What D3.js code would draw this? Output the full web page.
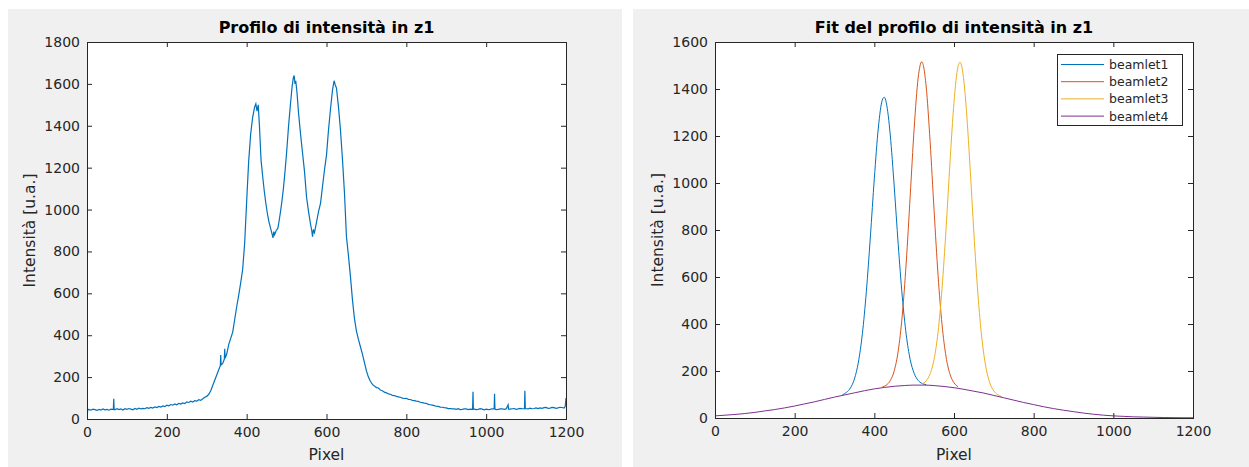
<!DOCTYPE html>
<html>
<head>
<meta charset="utf-8">
<script src="https://cdn.jsdelivr.net/npm/d3@7"></script>
<style>
  body { margin: 0; background: #fff; }
  svg { display: block; font-family: "DejaVu Sans", sans-serif; }
</style>
</head>
<body>
<div id="chart"></div>
<script>
const width = 1249;
const height = 467;

const profileX = [0, 2, 10, 15, 20, 25, 30, 35, 40, 45, 50, 55, 60, 66, 67, 68, 70, 75, 80, 85, 90, 95, 100, 105, 110, 115, 120, 125, 130, 135, 140, 145, 150,
    155, 160, 165, 170, 175, 180, 185, 190, 195, 200, 205, 210, 215, 220, 225, 230, 235, 240, 245, 250, 255, 260, 265, 270, 275, 280, 285, 290, 295, 300, 305, 310, 315, 320, 325,
    330, 334, 335, 336, 340, 344, 345, 346, 350, 355, 360, 365, 370, 375, 380, 385, 390, 395, 400, 405,
    410, 415, 420, 423, 426, 429, 432, 436, 440, 444, 448, 452, 456, 460, 464, 466, 468, 470, 474, 478,
    480, 484, 488, 492, 496, 500, 505, 510, 514, 517, 519, 521, 523, 526, 530, 535, 540, 545, 550, 555,
    560, 563, 565, 567, 570, 575, 580, 585, 590, 595, 600, 605, 610, 615, 619, 622, 625, 630, 635, 640,
    645, 650, 655, 660, 665, 670, 675, 680, 685, 690, 695, 700, 705, 710, 715, 720, 725, 730, 735, 740, 745, 750, 755, 760, 765, 770,
    775, 780, 785, 790, 795, 800, 805, 810, 815, 820, 825, 830, 835, 840, 845, 850, 855, 860, 865, 870, 875, 880, 885, 890, 895, 900, 905, 910, 915, 920, 925, 930, 935, 940, 945, 950, 955, 960, 966,
    967, 968, 975, 980, 985, 990, 995, 1000, 1005, 1010, 1015, 1020, 1021, 1022, 1025, 1030, 1035, 1040, 1045, 1050, 1055, 1056, 1060, 1065, 1070, 1075, 1080, 1085, 1090, 1096, 1097,
    1098, 1105, 1110, 1115, 1120, 1125, 1130, 1135, 1140, 1145, 1150, 1155, 1160, 1165, 1170, 1175, 1180, 1185, 1190, 1195, 1198, 1200];
const profileY = [10, 46, 42, 47, 45, 41, 46, 43, 48, 44, 46, 42, 47, 45, 97, 48, 44, 49, 45, 48, 43, 49, 46, 50, 47, 44, 50, 46, 52, 48, 51, 49, 54,
    51, 55, 52, 58, 55, 60, 57, 62, 59, 66, 63, 69, 66, 72, 68, 74, 71, 77, 74, 82, 79, 85, 81, 88, 85, 92, 89, 97, 104, 108, 118, 135, 160, 185, 210,
    235, 255, 305, 258, 265, 285, 335, 290, 310, 355, 385, 415, 475, 536, 590, 650, 715, 840, 1040, 1230,
    1360, 1440, 1490, 1505, 1470, 1500, 1400, 1237, 1160, 1090, 1030, 980, 940, 910, 880, 865, 895, 880, 900, 910,
    930, 980, 1035, 1100, 1180, 1270, 1400, 1510, 1590, 1630, 1640, 1600, 1615, 1560, 1460, 1360, 1270, 1180, 1060, 990,
    930, 900, 870, 905, 890, 940, 990, 1030, 1110, 1190, 1260, 1380, 1480, 1570, 1615, 1595, 1580, 1490, 1380, 1240,
    1080, 870, 780, 680, 570, 480, 420, 380, 345, 310, 270, 230, 200, 180, 165, 158, 150, 148, 138, 135, 128, 125, 120, 118, 113, 112,
    108, 106, 104, 100, 98, 99, 94, 93, 89, 88, 85, 84, 80, 78, 76, 75, 70, 68, 66, 64, 61, 60, 57, 56, 54, 53, 50, 50, 48, 48, 46, 49, 45, 46, 48, 48, 45, 47, 46,
    130, 48, 45, 46, 49, 47, 44, 47, 45, 46, 49, 48, 120, 47, 45, 46, 48, 49, 46, 48, 68, 47, 47, 49, 50, 46, 48, 51, 49, 50, 135,
    50, 48, 52, 49, 50, 53, 50, 53, 51, 54, 55, 51, 52, 55, 54, 51, 53, 56, 55, 52, 60, 100];

// fitted beamlets
const beamlet1X = [320, 330, 340, 350, 360, 370, 380, 390, 400, 410, 420, 425, 430, 440, 450, 460, 470, 480, 490, 500, 510, 520, 530];
const beamlet1Y = [99, 109, 128, 166, 238, 359, 539, 770, 1020, 1234, 1353, 1365, 1342, 1204, 983, 738, 519, 355, 249, 190, 160, 147, 142];
const beamlet2X = [420, 430, 440, 450, 460, 470, 480, 490, 500, 510, 519, 530, 540, 550, 560, 570, 580, 590, 600, 610];
const beamlet2Y = [132, 140, 159, 201, 286, 435, 660, 944, 1233, 1447, 1516, 1413, 1177, 883, 607, 397, 261, 186, 150, 133];
const beamlet3X = [520, 530, 540, 550, 560, 570, 580, 590, 600, 610, 615, 620, 630, 640, 650, 660, 670, 680, 690, 700, 710, 720];
const beamlet3Y = [146, 158, 188, 250, 366, 552, 804, 1089, 1344, 1495, 1514, 1492, 1336, 1076, 785, 528, 338, 217, 149, 115, 99, 91];
const beamlet4X = [0, 25, 50, 75, 100, 125, 150, 175, 200, 225, 250, 275, 300, 325, 350, 375, 400, 425, 450, 475,
    500, 525, 550, 575, 600, 625, 650, 675, 700, 725, 750, 775, 800, 825, 850, 875, 900, 925, 950, 975,
    1000, 1025, 1050, 1075, 1100, 1125, 1150, 1175, 1200];
const beamlet4Y = [9, 12, 15, 19, 24, 30, 36, 43, 51, 60, 69, 79, 89, 98, 107, 116, 124, 130, 135, 138,
    140, 140, 138, 134, 129, 122, 114, 106, 96, 86, 76, 66, 57, 48, 40, 33, 27, 21, 16, 12,
    9, 7, 5, 4, 3, 2, 1.5, 1, 1];

const seriesNames = ["beamlet1", "beamlet2", "beamlet3", "beamlet4"];
const seriesColors = ["#0072BD", "#D95319", "#EDB120", "#7E2F8E"];

const xTicks = [0, 200, 400, 600, 800, 1000, 1200];
const yTicksLeft = [0, 200, 400, 600, 800, 1000, 1200, 1400, 1600, 1800];
const yTicksRight = [0, 200, 400, 600, 800, 1000, 1200, 1400, 1600];

const ink = "#262626";

const svg = d3.select("#chart")
    .append("svg")
    .attr("width", width)
    .attr("height", height);

svg.append("rect").attr("width", width).attr("height", height).attr("fill", "#fff");

function drawPanel(opt) {
    svg.append("rect")
        .attr("x", opt.bg[0]).attr("y", opt.bg[1])
        .attr("width", opt.bg[2]).attr("height", opt.bg[3])
        .attr("fill", "#f0f0f0");

    const x = d3.scaleLinear().domain([0, 1200]).range([opt.left, opt.right]);
    const y = d3.scaleLinear().domain([0, opt.yMax]).range([opt.bottom, opt.top]);

    const g = svg.append("g");
    g.append("rect")
        .attr("x", opt.left).attr("y", opt.top)
        .attr("width", opt.right - opt.left).attr("height", opt.bottom - opt.top)
        .attr("fill", "#fff");

    const clipId = "clip" + opt.id;
    svg.append("clipPath").attr("id", clipId)
        .append("rect")
        .attr("x", opt.left).attr("y", opt.top - 2)
        .attr("width", opt.right - opt.left + 1).attr("height", opt.bottom - opt.top + 2);

    const plot = g.append("g").attr("clip-path", "url(#" + clipId + ")");

    // axes, ticks pointing inwards like matlab
    const fmt = d3.format("d");
    const styleAxis = sel => {
        sel.select(".domain").remove();
        sel.selectAll("line").attr("stroke", ink);
        sel.selectAll("text").attr("fill", ink).style("font-size", "14px")
            .style("font-family", "DejaVu Sans, sans-serif");
    };
    g.append("g").attr("transform", "translate(0," + opt.bottom + ")")
        .call(d3.axisBottom(x).tickValues(xTicks).tickFormat(fmt).tickSize(-5).tickPadding(8))
        .call(styleAxis);
    g.append("g").attr("transform", "translate(0," + opt.top + ")")
        .call(d3.axisTop(x).tickValues(xTicks).tickSize(-5).tickFormat(""))
        .call(styleAxis);
    g.append("g").attr("transform", "translate(" + opt.left + ",0)")
        .call(d3.axisLeft(y).tickValues(opt.yTicks).tickFormat(fmt).tickSize(-5).tickPadding(7))
        .call(styleAxis);
    g.append("g").attr("transform", "translate(" + opt.right + ",0)")
        .call(d3.axisRight(y).tickValues(opt.yTicks).tickSize(-5).tickFormat(""))
        .call(styleAxis);

    g.append("rect")
        .attr("x", opt.left + 0.5).attr("y", opt.top + 0.5)
        .attr("width", opt.right - opt.left).attr("height", opt.bottom - opt.top)
        .attr("fill", "none").attr("stroke", ink).attr("stroke-width", 1);

    g.append("text")
        .attr("x", (opt.left + opt.right) / 2).attr("y", 33)
        .attr("text-anchor", "middle")
        .style("font-size", "16px").style("font-weight", "bold")
        .attr("fill", "#000")
        .text(opt.title);

    g.append("text")
        .attr("x", (opt.left + opt.right) / 2).attr("y", 460)
        .attr("text-anchor", "middle")
        .style("font-size", "15.5px").attr("fill", ink)
        .text("Pixel");

    g.append("text")
        .attr("transform", "translate(" + (opt.left - 52) + "," + ((opt.top + opt.bottom) / 2) + ") rotate(-90)")
        .attr("text-anchor", "middle")
        .style("font-size", "15.5px").attr("fill", ink)
        .text("Intensità [u.a.]");

    return { x, y, plot };
}

// left panel: measured profile
const p1 = drawPanel({
    id: 1, bg: [8, 9, 614, 458],
    left: 87, right: 566, top: 42, bottom: 419,
    yMax: 1800, yTicks: yTicksLeft,
    title: "Profilo di intensità in z1"
});

const profile = profileX.map((d, i) => [d, profileY[i]]);
p1.plot.append("path")
    .datum(profile)
    .attr("fill", "none")
    .attr("stroke", seriesColors[0])
    .attr("stroke-width", 1.2)
    .attr("d", d3.line().x(d => p1.x(d[0])).y(d => p1.y(d[1])));

// right panel: fitted beamlets
const p2 = drawPanel({
    id: 2, bg: [633, 9, 616, 458],
    left: 715, right: 1193, top: 42, bottom: 418,
    yMax: 1600, yTicks: yTicksRight,
    title: "Fit del profilo di intensità in z1"
});

const fits = [
    [beamlet1X, beamlet1Y],
    [beamlet2X, beamlet2Y],
    [beamlet3X, beamlet3Y],
    [beamlet4X, beamlet4Y]
].map(s => s[0].map((d, i) => [d, s[1][i]]));

const fitLine = d3.line()
    .curve(d3.curveMonotoneX)
    .x(d => p2.x(d[0]))
    .y(d => p2.y(d[1]));

// broad background drawn last so it sits on top at the joins
[0, 1, 2, 3].forEach(i => {
    p2.plot.append("path")
        .datum(fits[i])
        .attr("fill", "none")
        .attr("stroke", seriesColors[i])
        .attr("stroke-width", 1)
        .attr("d", fitLine);
});

// legend
const legend = svg.append("g");
legend.append("rect")
    .attr("x", 1057.5).attr("y", 54.5)
    .attr("width", 125).attr("height", 71)
    .attr("fill", "#fff").attr("stroke", ink);

seriesNames.forEach((name, i) => {
    const ly = 64.5 + i * 17.2;
    legend.append("line")
        .attr("x1", 1061).attr("x2", 1104)
        .attr("y1", ly).attr("y2", ly)
        .attr("stroke", seriesColors[i]).attr("stroke-width", 1);
    legend.append("text")
        .attr("x", 1109).attr("y", ly + 4.5)
        .style("font-size", "12.5px").attr("fill", ink)
        .text(name);
});
</script>
</body>
</html>
